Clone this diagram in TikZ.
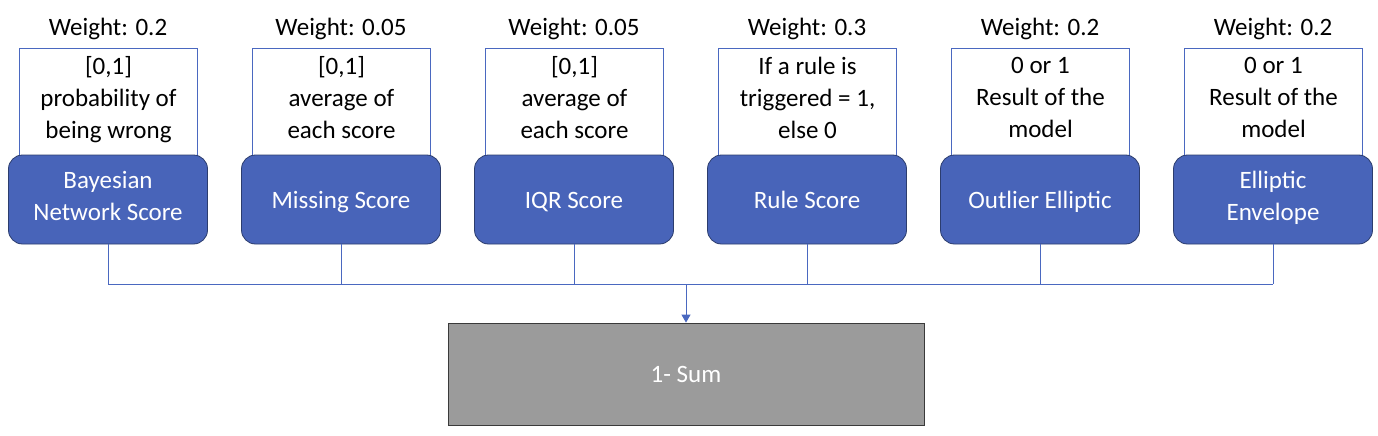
\documentclass[tikz,border=0pt]{standalone}
\usepackage{fontspec}
\setmainfont{Carlito}
\usetikzlibrary{arrows.meta}
\definecolor{bfill}{HTML}{4864B9}
\definecolor{bdraw}{HTML}{2C3D6E}
\definecolor{lcol}{HTML}{4A68C0}
\definecolor{gfill}{HTML}{9B9B9B}
\definecolor{gdraw}{HTML}{3A3A3A}
\newcommand{\topstrut}{\rule{0pt}{26pt}}
\newcommand{\botstrut}{\rule[-8pt]{0pt}{8pt}}
\begin{document}
\begin{tikzpicture}[x=1pt,y=-1pt,
  txt/.style={align=center,font=\fontsize{25}{32}\selectfont,inner sep=0pt,execute at begin node=\topstrut,execute at end node=\botstrut},
  bluebox/.style={txt,draw=bdraw,fill=bfill,rounded corners=14pt,line width=0.8pt,minimum width=199pt,minimum height=89pt,text=white},
  whitebox/.style={txt,draw=lcol,fill=white,line width=0.8pt,minimum width=178pt,minimum height=107pt},
  wlabel/.style={font=\fontsize{25}{30}\selectfont,inner sep=0pt},
  conn/.style={draw=lcol,line width=1pt}]
\useasboundingbox (0,0) rectangle (1378,436);
\foreach \i/\x/\w/\top/\bot in {1/108/0.2/{[0,1]\\probability of\\being wrong}/{Bayesian\\Network Score},
  2/341/0.05/{[0,1]\\average of\\each score}/{Missing Score},
  3/574/0.05/{[0,1]\\average of\\each score}/{IQR Score},
  4/807/0.3/{If a rule is\\triggered = 1,\\else 0}/{Rule Score},
  5/1040/0.2/{0 or 1\\Result of the\\model}/{Outlier Elliptic},
  6/1273/0.2/{0 or 1\\Result of the\\model}/{Elliptic\\Envelope}}{
  \node[wlabel] (w\i) at (\x,28.5) {Weight: \w};
  \node[whitebox] (t\i) at (\x+0.5,101.5) {\top};
  \node[bluebox] (b\i) at (\x,199.5) {\bot};
}
\coordinate (h1) at (108,284);
\coordinate (h6) at (1273,284);
\coordinate (hm) at (686,284);
\node[draw=gdraw,fill=gfill,line width=0.8pt,minimum width=476pt,minimum height=102pt,inner sep=0pt,text=white,font=\fontsize{25}{30}\selectfont] (sum) at (686,374) {1- Sum};
\foreach \i in {1,...,6}{
  \draw[conn] (b\i.south) -- (b\i.south |- h1);
}
\draw[conn] (h1) -- (h6);
\draw[conn,-{Triangle[width=9pt,length=8pt]}] (hm) -- (sum.north);
\end{tikzpicture}
\end{document}
